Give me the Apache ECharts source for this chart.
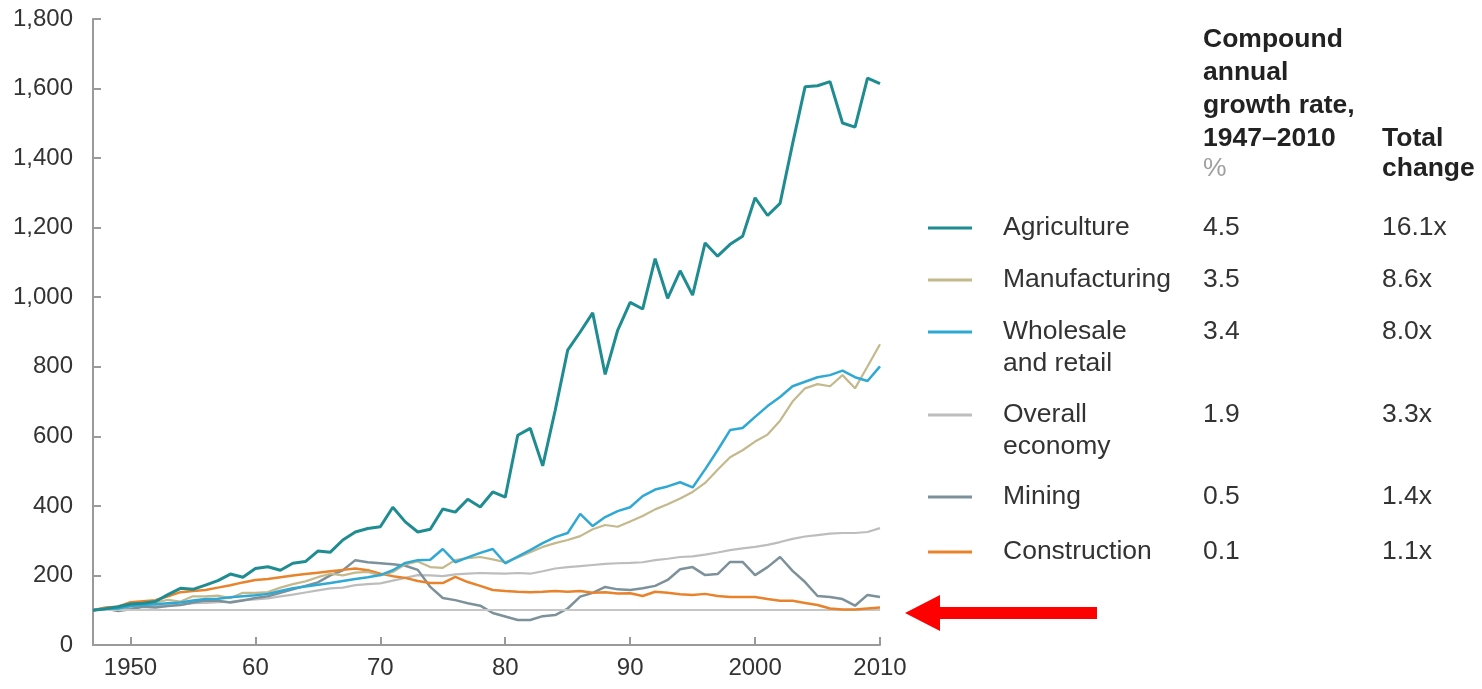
<!DOCTYPE html>
<html>
<head>
<meta charset="utf-8">
<script src="https://cdn.jsdelivr.net/npm/echarts@6/dist/echarts.min.js"></script>
<style>
html,body{margin:0;padding:0;background:#fff;}
#chart{width:1482px;height:689px;}
</style>
</head>
<body>
<div id="chart"></div>
<script>
// ---- Data (index, 1947 = 100) ----
const startYear = 1947;
const endYear = 2010;
const xTickYears = [1950, 1960, 1970, 1980, 1990, 2000, 2010];
const xTickLabels = ['1950', '60', '70', '80', '90', '2000', '2010'];
const baselineValue = 100;

const agriculture = [100,104,110,118,120,125,145,163,160,172,
  185,204,195,220,225,215,235,240,270,267,
  302,325,335,340,396,354,325,333,391,382,
  419,397,440,425,603,623,515,675,848,900,
  955,778,905,985,966,1111,997,1076,1006,1156,
  1118,1152,1175,1286,1235,1270,1441,1605,1608,1620,
  1501,1489,1630,1614];
const manufacturing = [100,106,103,115,120,122,130,125,140,140,
  142,135,150,150,152,165,175,183,195,205,
  200,208,210,200,210,232,240,224,222,244,
  250,253,246,238,252,267,282,293,302,313,
  333,345,340,355,371,390,405,421,440,466,
  504,540,560,585,605,645,700,738,750,744,
  776,738,801,865];
const wholesale = [100,104,105,112,115,117,120,122,128,132,
  133,137,140,143,147,155,163,168,173,178,
  184,190,195,201,215,236,244,245,276,238,
  252,265,276,235,254,273,293,310,322,377,
  342,368,385,396,428,447,456,468,453,505,
  560,618,624,656,687,713,744,757,770,776,
  789,770,759,801];
const overall = [100,102,102,108,110,112,114,115,120,121,
  123,124,129,131,134,140,145,151,157,163,
  165,172,175,177,185,193,201,200,198,203,
  205,207,206,205,207,205,212,220,224,227,
  230,233,235,236,238,244,248,253,255,260,
  266,273,278,282,288,296,305,312,316,320,
  322,322,325,336];
const mining = [100,105,98,103,110,108,112,115,122,128,
  127,122,128,135,140,150,160,170,180,200,
  215,244,238,235,232,228,216,167,135,129,
  120,113,92,82,72,72,83,86,105,139,
  150,167,160,158,163,170,187,218,224,201,
  204,239,239,201,224,253,213,181,141,138,
  132,113,144,138];
const construction = [100,108,110,123,126,129,140,152,155,158,
  165,172,180,187,190,195,200,204,208,212,
  216,220,215,205,198,193,184,178,178,196,
  181,170,158,155,153,152,153,155,153,155,
  150,152,148,149,141,153,150,146,144,147,
  141,138,138,138,132,127,127,121,115,105,
  102,102,105,108];

const seriesNames = ['Agriculture', 'Manufacturing', 'Wholesale\nand retail', 'Overall\neconomy', 'Mining', 'Construction'];
const cagr = ['4.5', '3.5', '3.4', '1.9', '0.5', '0.1'];
const totalChange = ['16.1x', '8.6x', '8.0x', '3.3x', '1.4x', '1.1x'];
const headerCagr = ['Compound', 'annual', 'growth rate,', '1947–2010'];
const headerCagrUnit = '%';
const headerTotal = ['Total', 'change'];

// ---- Styles ----
const colors = ['#1f8c91', '#c4b98c', '#2fa9d4', '#bdbdbd', '#7d919a', '#e8832c'];
const widths = [3, 2.2, 2.5, 2.2, 2.5, 2.5];
const allData = [agriculture, manufacturing, wholesale, overall, mining, construction];
const FONT = '"Liberation Sans", Arial, sans-serif';

const years = [];
for (let y = startYear; y <= endYear; y++) years.push(y);

function pairs(arr) { return arr.map((v, i) => [years[i], v]); }

// draw order: overall, mining, construction, manufacturing, wholesale, agriculture
const drawOrder = [3, 4, 5, 1, 2, 0];
const series = drawOrder.map((idx, k) => {
  const s = {
    name: seriesNames[idx],
    type: 'line',
    data: pairs(allData[idx]),
    showSymbol: false,
    symbol: 'none',
    lineStyle: { color: colors[idx], width: widths[idx] },
    z: 3 + k,
    animation: false
  };
  if (k === 0) {
    s.markLine = {
      silent: true,
      symbol: ['none', 'none'],
      label: { show: false },
      lineStyle: { color: '#c6c6c6', width: 2, type: 'solid' },
      data: [{ yAxis: baselineValue }],
      animation: false
    };
  }
  return s;
});

// ---- Legend table (graphic) ----
const rowY = [228, 280, 332, 415, 497, 552];
const graphics = [];
const SX = 1.06;
const hdrStyle = { font: 'bold 25px ' + FONT, fill: '#222' };
headerCagr.forEach((t, i) => {
  graphics.push({ type: 'text', x: 1203, y: 40 + i * 33, scaleX: SX, style: Object.assign({ text: t, verticalAlign: 'middle' }, hdrStyle) });
});
graphics.push({ type: 'text', x: 1203, y: 169, scaleX: SX, style: { text: headerCagrUnit, font: '25px ' + FONT, fill: '#a0a0a0', verticalAlign: 'middle' } });
headerTotal.forEach((t, i) => {
  graphics.push({ type: 'text', x: 1382, y: 139 + i * 30, scaleX: SX, style: Object.assign({ text: t, verticalAlign: 'middle' }, hdrStyle) });
});
seriesNames.forEach((name, i) => {
  const y = rowY[i];
  graphics.push({ type: 'line', shape: { x1: 928, y1: y, x2: 972, y2: y }, style: { stroke: colors[i], lineWidth: 3 } });
  graphics.push({ type: 'text', x: 1003, y: y - 16, scaleX: SX, style: { text: name, font: '25px ' + FONT, fill: '#333', lineHeight: 32, verticalAlign: 'top' } });
  graphics.push({ type: 'text', x: 1203, y: y - 16, scaleX: SX, style: { text: cagr[i], font: '25px ' + FONT, fill: '#333', lineHeight: 32, verticalAlign: 'top' } });
  graphics.push({ type: 'text', x: 1382, y: y - 16, scaleX: SX, style: { text: totalChange[i], font: '25px ' + FONT, fill: '#333', lineHeight: 32, verticalAlign: 'top' } });
});
// red annotation arrow
graphics.push({
  type: 'polygon',
  shape: { points: [[905, 613], [940, 595], [940, 607], [1097, 607], [1097, 619], [940, 619], [940, 631]] },
  style: { fill: '#ff0000' }
});

const chart = echarts.init(document.getElementById('chart'), null, { renderer: 'canvas' });
chart.setOption({
  animation: false,
  backgroundColor: '#ffffff',
  grid: { left: 93, right: 602, top: 19, bottom: 44, containLabel: false },
  xAxis: {
    type: 'value',
    min: startYear,
    max: endYear,
    splitLine: { show: false },
    axisLine: { show: true, lineStyle: { color: '#9a9a9a', width: 2 } },
    axisTick: { show: true, inside: true, length: 8, customValues: xTickYears, lineStyle: { color: '#9a9a9a', width: 2 } },
    axisLabel: {
      show: true,
      customValues: xTickYears,
      formatter: v => xTickLabels[xTickYears.indexOf(v)],
      fontSize: 24, fontFamily: FONT, color: '#333', margin: 11
    }
  },
  yAxis: {
    type: 'value',
    min: 0, max: 1800, interval: 200,
    splitLine: { show: false },
    axisLine: { show: true, lineStyle: { color: '#9a9a9a', width: 2 } },
    axisTick: { show: true, inside: true, length: 8, lineStyle: { color: '#9a9a9a', width: 2 } },
    axisLabel: {
      formatter: v => v.toLocaleString('en-US'),
      fontSize: 24, fontFamily: FONT, color: '#333', margin: 20
    }
  },
  series: series,
  graphic: graphics
});
</script>
</body>
</html>
